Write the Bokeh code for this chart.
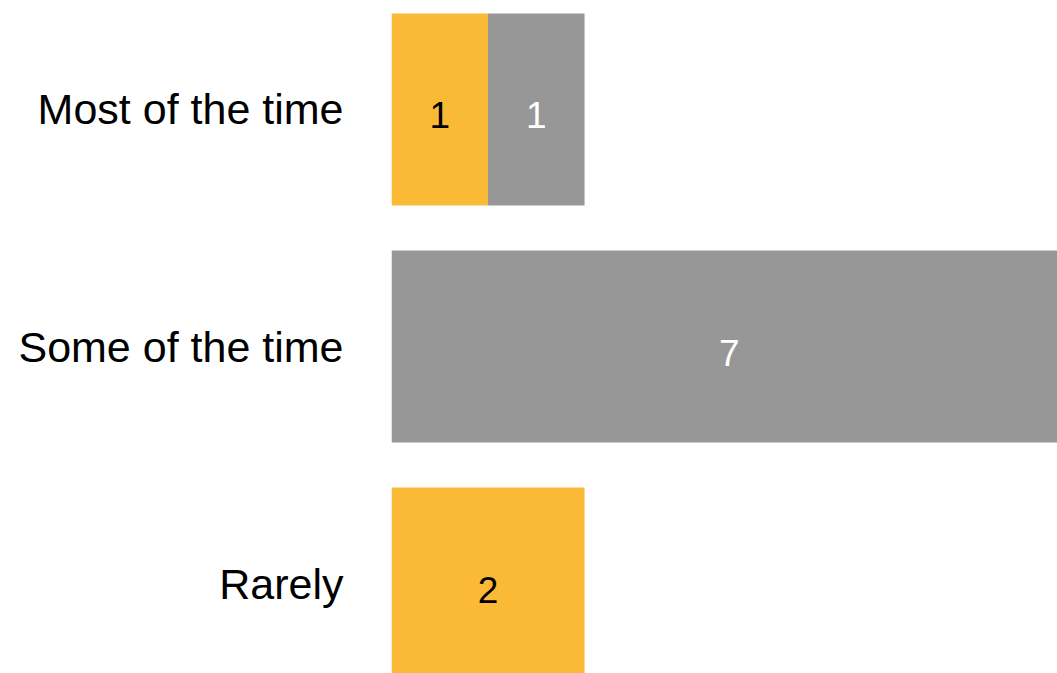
from bokeh.plotting import figure
from bokeh.models import ColumnDataSource, Range1d, FixedTicker
from bokeh.core.properties import value
from bokeh.embed import file_html
from bokeh.resources import INLINE

# Survey answers: how often, split into two groups
categories = ["Most of the time", "Some of the time", "Rarely"]
group_a = [1, 0, 2]   # yellow segment
group_b = [1, 7, 0]   # grey segment

COLOR_A = "#FBBA35"
COLOR_B = "#979797"
FONT = "Liberation Sans"

rows = list(range(len(categories)))

bars = ColumnDataSource(dict(
    y=rows,
    a_left=[0] * len(rows),
    a_right=group_a,
    b_left=group_a,
    b_right=[a + b for a, b in zip(group_a, group_b)],
))

p = figure(
    width=1057, height=673,
    output_backend="svg", toolbar_location=None,
    x_range=Range1d(0, 6.9),
    y_range=Range1d(2.3797, -0.4599),
    min_border_left=391, min_border_right=0,
    min_border_top=0, min_border_bottom=0,
    outline_line_color=None,
    background_fill_color="white", border_fill_color="white",
)

bar_h = 0.81
p.hbar(y="y", left="a_left", right="a_right", height=bar_h,
       source=bars, fill_color=COLOR_A, line_color=None)
p.hbar(y="y", left="b_left", right="b_right", height=bar_h,
       source=bars, fill_color=COLOR_B, line_color=None)

# Value labels centred in each non-empty segment
lx, ly, lt, lc = [], [], [], []
for i, (a, b) in enumerate(zip(group_a, group_b)):
    if a > 0:
        lx.append(a / 2); ly.append(i); lt.append(str(a)); lc.append("black")
    if b > 0:
        lx.append(a + b / 2); ly.append(i); lt.append(str(b)); lc.append("white")

labels = ColumnDataSource(dict(x=lx, y=ly, text=lt, color=lc))
p.text(x="x", y="y", text="text", source=labels, text_color="color",
       text_font=value(FONT), text_font_size="37px",
       text_align="center", text_baseline="middle", y_offset=6)

p.xaxis.visible = False
p.xgrid.visible = False
p.ygrid.visible = False

yax = p.yaxis[0]
yax.ticker = FixedTicker(ticks=rows)
yax.major_label_overrides = {i: c for i, c in zip(rows, categories)}
yax.axis_line_color = None
yax.major_tick_line_color = None
yax.minor_tick_line_color = None
yax.major_tick_out = 0
yax.major_tick_in = 0
yax.major_label_standoff = 48
yax.major_label_text_font = FONT
yax.major_label_text_font_size = "43px"
yax.major_label_text_color = "black"

open("out.html", "w").write(file_html(p, INLINE))
